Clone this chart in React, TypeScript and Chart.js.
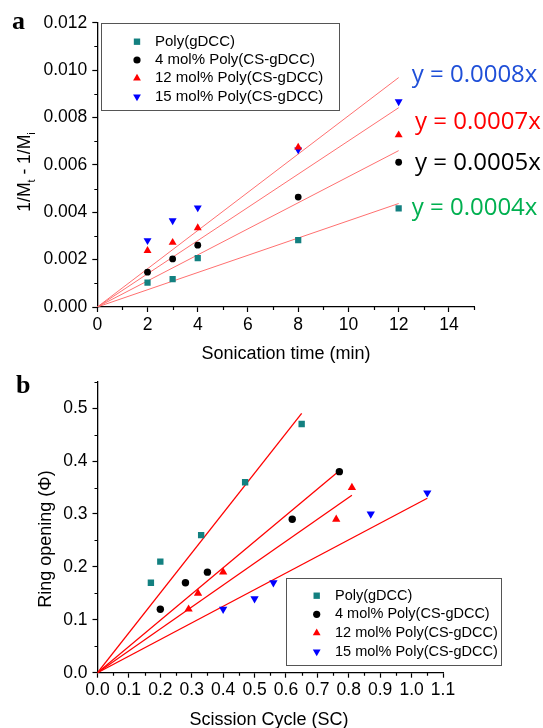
import React, { useEffect, useRef } from 'react';
import { Chart, registerables } from 'chart.js';

Chart.register(...registerables);

const SANS = "'Liberation Sans', Arial, sans-serif";

// ---- shared series info ----
const seriesNames = ['Poly(gDCC)', '4 mol% Poly(CS-gDCC)', '12 mol% Poly(CS-gDCC)', '15 mol% Poly(CS-gDCC)'];
const seriesColors = ['#138080', '#000000', '#ff0000', '#0000ff'];
const seriesStyles = ['rect', 'circle', 'triangle', 'triangle'];
const seriesRotations = [0, 0, 0, 180];

// ---- panel a: 1/Mt - 1/Mi vs sonication time ----
const aTime = [2, 3, 4, 8, 12];
const aPoly = [0.00103, 0.00118, 0.00206, 0.00282, 0.00416];
const a4mol = [0.00147, 0.00203, 0.00261, 0.00464, 0.00611];
const a12mol = [0.00238, 0.00272, 0.00334, 0.00674, 0.00726];
const a15mol = [0.00281, 0.00365, 0.00419, 0.00664, 0.00867];
const aFitSlopes = [0.000364, 0.00055, 0.000701, 0.000807];
const aFitEnds = [12, 12, 12, 12];
const aEquations = ['y = 0.0008x', 'y = 0.0007x', 'y = 0.0005x', 'y = 0.0004x'];
const aEqColors = ['#1f4fd8', '#ff0000', '#000000', '#00b050'];
const aXTicks = [0, 2, 4, 6, 8, 10, 12, 14];
const aXMinor = [1, 3, 5, 7, 9, 11, 13, 15];
const aYTicks = [0, 0.002, 0.004, 0.006, 0.008, 0.01, 0.012];
const aYMinor = [0.001, 0.003, 0.005, 0.007, 0.009, 0.011];

// ---- panel b: ring opening vs scission cycle ----
const bPolyX = [0.17, 0.2, 0.33, 0.47, 0.65];
const bPolyY = [0.17, 0.21, 0.26, 0.36, 0.47];
const b4molX = [0.2, 0.28, 0.35, 0.62, 0.77];
const b4molY = [0.12, 0.17, 0.19, 0.29, 0.38];
const b12molX = [0.29, 0.32, 0.4, 0.76, 0.81];
const b12molY = [0.12, 0.15, 0.19, 0.29, 0.35];
const b15molX = [0.4, 0.5, 0.56, 0.87, 1.05];
const b15molY = [0.12, 0.14, 0.17, 0.30, 0.34];
const bFitSlopes = [0.754, 0.496, 0.414, 0.314];
const bFitEnds = [0.65, 0.77, 0.81, 1.05];
const bXTicks = [0, 0.1, 0.2, 0.3, 0.4, 0.5, 0.6, 0.7, 0.8, 0.9, 1.0, 1.1];
const bXMinor = [0.05, 0.15, 0.25, 0.35, 0.45, 0.55, 0.65, 0.75, 0.85, 0.95, 1.05];
const bYTicks = [0, 0.1, 0.2, 0.3, 0.4, 0.5];
const bYMinor = [0.05, 0.15, 0.25, 0.35, 0.45, 0.55];

function drawMarker(ctx: CanvasRenderingContext2D, style: string, rot: number, x: number, y: number, r: number, color: string) {
  ctx.save();
  ctx.fillStyle = color;
  ctx.beginPath();
  if (style === 'rect') {
    const s = r * Math.SQRT1_2;
    ctx.rect(x - s, y - s, 2 * s, 2 * s);
  } else if (style === 'circle') {
    ctx.arc(x, y, r * 0.8, 0, Math.PI * 2);
  } else {
    const sg = rot === 180 ? -1 : 1;
    ctx.moveTo(x, y - sg * r);
    ctx.lineTo(x + r * 0.866, y + sg * r * 0.5);
    ctx.lineTo(x - r * 0.866, y + sg * r * 0.5);
    ctx.closePath();
  }
  ctx.fill();
  ctx.restore();
}

type TitlePart = { t: string; sub?: boolean };

type Spec = {
  panel: string; panelX: number; panelY: number;
  xTitle: string; xTitleX: number; xTitleY: number;
  yTitle: TitlePart[]; yTitleX: number; yTitleY: number; yTitleSize: number;
  xMinor: number[]; yMinor: number[];
  legend: { left: number; top: number; right: number; bottom: number; markerX: number; textX: number; rows: number[]; r: number; size: number };
  equations?: { text: string; color: string; x: number; y: number }[];
};

function makeOverlay(spec: Spec) {
  return {
    id: 'overlay',
    afterDraw(chart: any) {
      const ctx: CanvasRenderingContext2D = chart.ctx;
      const xs = chart.scales.x;
      const ys = chart.scales.y;
      ctx.save();
      // minor ticks
      ctx.strokeStyle = '#000';
      ctx.lineWidth = 1.2;
      ctx.beginPath();
      spec.xMinor.forEach((v) => {
        const px = Math.round(xs.getPixelForValue(v)) + 0.5;
        ctx.moveTo(px, xs.top);
        ctx.lineTo(px, xs.top + 3);
      });
      spec.yMinor.forEach((v) => {
        const py = Math.round(ys.getPixelForValue(v)) + 0.5;
        ctx.moveTo(ys.right, py);
        ctx.lineTo(ys.right - 3, py);
      });
      ctx.stroke();

      // panel label
      ctx.fillStyle = '#000';
      ctx.font = "bold 26px 'Liberation Serif', 'Times New Roman', serif";
      ctx.textAlign = 'left';
      ctx.textBaseline = 'alphabetic';
      ctx.fillText(spec.panel, spec.panelX, spec.panelY);

      // x title
      ctx.font = `18px ${SANS}`;
      ctx.textAlign = 'center';
      ctx.textBaseline = 'middle';
      ctx.fillText(spec.xTitle, spec.xTitleX, spec.xTitleY);

      // y title (rotated, with optional subscripts)
      ctx.save();
      ctx.translate(spec.yTitleX, spec.yTitleY);
      ctx.rotate(-Math.PI / 2);
      ctx.textAlign = 'left';
      ctx.textBaseline = 'middle';
      const mainFont = `${spec.yTitleSize}px ${SANS}`;
      const subFont = `11px ${SANS}`;
      let total = 0;
      spec.yTitle.forEach((p) => {
        ctx.font = p.sub ? subFont : mainFont;
        total += ctx.measureText(p.t).width;
      });
      let cx = -total / 2;
      spec.yTitle.forEach((p) => {
        ctx.font = p.sub ? subFont : mainFont;
        ctx.fillText(p.t, cx, p.sub ? 6 : 0);
        cx += ctx.measureText(p.t).width;
      });
      ctx.restore();

      // legend
      const L = spec.legend;
      ctx.strokeStyle = '#555';
      ctx.lineWidth = 1;
      ctx.strokeRect(Math.round(L.left) + 0.5, Math.round(L.top) + 0.5, Math.round(L.right - L.left), Math.round(L.bottom - L.top));
      ctx.font = `${L.size}px ${SANS}`;
      ctx.textAlign = 'left';
      ctx.textBaseline = 'middle';
      seriesNames.forEach((name, i) => {
        drawMarker(ctx, seriesStyles[i], seriesRotations[i], L.markerX, L.rows[i], L.r, seriesColors[i]);
        ctx.fillStyle = '#000';
        ctx.fillText(name, L.textX, L.rows[i]);
      });

      // equations
      if (spec.equations) {
        ctx.font = "24px 'Open Sans', 'Noto Sans', sans-serif";
        ctx.textAlign = 'left';
        ctx.textBaseline = 'middle';
        spec.equations.forEach((e) => {
          ctx.fillStyle = e.color;
          ctx.fillText(e.text, e.x, e.y);
        });
      }
      ctx.restore();
    },
  };
}

function buildDatasets(xsList: number[][], ysList: number[][], slopes: number[], ends: number[], radii: number[], lineColor: string, lineWidth: number) {
  const pts = seriesNames.map((name, i) => ({
    label: name,
    data: xsList[i].map((x, j) => ({ x, y: ysList[i][j] })),
    showLine: false,
    pointStyle: seriesStyles[i],
    pointRotation: seriesRotations[i],
    pointRadius: radii[i],
    pointBackgroundColor: seriesColors[i],
    pointBorderColor: seriesColors[i],
    pointBorderWidth: 0,
    order: 0,
  }));
  const lines = slopes.map((m, i) => ({
    label: 'fit' + i,
    data: [{ x: 0, y: 0 }, { x: ends[i], y: m * ends[i] }],
    showLine: true,
    pointRadius: 0,
    borderColor: lineColor,
    borderWidth: lineWidth,
    order: 5,
  }));
  return [...pts, ...lines];
}

function axis(min: number, max: number, ticks: number[], decimals: number, fit: (s: any) => void, padding: number) {
  return {
    type: 'linear',
    min,
    max,
    afterBuildTicks: (s: any) => {
      s.ticks = ticks.map((v) => ({ value: v }));
    },
    afterFit: fit,
    ticks: {
      autoSkip: false,
      maxRotation: 0,
      color: '#000',
      padding,
      font: { family: SANS, size: 17.5 },
      callback: (v: any) => Number(v).toFixed(decimals),
    },
    grid: { drawOnChartArea: false, drawTicks: true, tickLength: 5, tickColor: '#000', tickWidth: 1.2, color: '#000' },
    border: { display: true, color: '#000', width: 1.3 },
  };
}

const W = 543;
const H = 364;

export default function App() {
  const topRef = useRef<HTMLCanvasElement>(null);
  const botRef = useRef<HTMLCanvasElement>(null);

  useEffect(() => {
    const aArea = { left: 97.3, right: 474, top: 22.7, bottom: 307 };
    const bArea = { left: 97.5, right: 443, top: 17.7, bottom: 308.7 };

    const top = new Chart(topRef.current as HTMLCanvasElement, {
      type: 'scatter',
      data: {
        datasets: buildDatasets(
          [aTime, aTime, aTime, aTime],
          [aPoly, a4mol, a12mol, a15mol],
          aFitSlopes, aFitEnds, [4.4, 3.4, 4.6, 4.6], '#ff7070', 1) as any,
      },
      options: {
        animation: false,
        responsive: false,
        devicePixelRatio: 1,
        layout: { padding: { left: 0, top: aArea.top, right: W - aArea.right, bottom: 0 } },
        plugins: { legend: { display: false }, tooltip: { enabled: false } },
        scales: {
          x: axis(0, 15, aXTicks, 0, (s: any) => { s.height = H - aArea.bottom; }, 2.5) as any,
          y: axis(0, 0.012, aYTicks, 3, (s: any) => { s.width = aArea.left; }, 5) as any,
        },
      },
      plugins: [makeOverlay({
        panel: 'a', panelX: 12, panelY: 29,
        xTitle: 'Sonication time (min)', xTitleX: 286, xTitleY: 354,
        yTitle: [{ t: '1/M' }, { t: 't', sub: true }, { t: ' - 1/M' }, { t: 'i', sub: true }],
        yTitleX: 25.5, yTitleY: 172, yTitleSize: 17.5,
        xMinor: aXMinor, yMinor: aYMinor,
        legend: { left: 100.7, top: 22.7, right: 339, bottom: 110, markerX: 137, textX: 155, rows: [41.7, 60, 78.3, 96.7], r: 4.5, size: 15 },
        equations: aEquations.map((t, i) => ({
          text: t, color: aEqColors[i],
          x: [411.7, 415, 415, 411.7][i],
          y: [75, 121.7, 163.3, 208.3][i],
        })),
      }) as any],
    });

    const bot = new Chart(botRef.current as HTMLCanvasElement, {
      type: 'scatter',
      data: {
        datasets: buildDatasets(
          [bPolyX, b4molX, b12molX, b15molX],
          [bPolyY, b4molY, b12molY, b15molY],
          bFitSlopes, bFitEnds, [4.5, 3.7, 4.8, 4.8], '#ff0000', 1.3) as any,
      },
      options: {
        animation: false,
        responsive: false,
        devicePixelRatio: 1,
        layout: { padding: { left: 0, top: bArea.top, right: W - bArea.right, bottom: 0 } },
        plugins: { legend: { display: false }, tooltip: { enabled: false } },
        scales: {
          x: axis(0, 1.1, bXTicks, 1, (s: any) => { s.height = H - bArea.bottom; }, 2) as any,
          y: axis(0, 0.55, bYTicks, 1, (s: any) => { s.width = bArea.left; }, 5) as any,
        },
      },
      plugins: [makeOverlay({
        panel: 'b', panelX: 16, panelY: 29.3,
        xTitle: 'Scission Cycle (SC)', xTitleX: 269, xTitleY: 356,
        yTitle: [{ t: 'Ring opening (Φ)' }],
        yTitleX: 46, yTitleY: 175, yTitleSize: 18,
        xMinor: bXMinor, yMinor: bYMinor,
        legend: { left: 286, top: 214.3, right: 501, bottom: 301.7, markerX: 316.7, textX: 335, rows: [231.7, 250.3, 269, 287.7], r: 4.5, size: 14.5 },
      }) as any],
    });

    return () => {
      top.destroy();
      bot.destroy();
    };
  }, []);

  return (
    <div style={{ position: 'fixed', left: 0, top: 0, width: W, height: 2 * H, background: '#fff' }}>
      <canvas ref={topRef} width={W} height={H} style={{ display: 'block', width: W, height: H }} />
      <canvas ref={botRef} width={W} height={H} style={{ display: 'block', width: W, height: H }} />
    </div>
  );
}
